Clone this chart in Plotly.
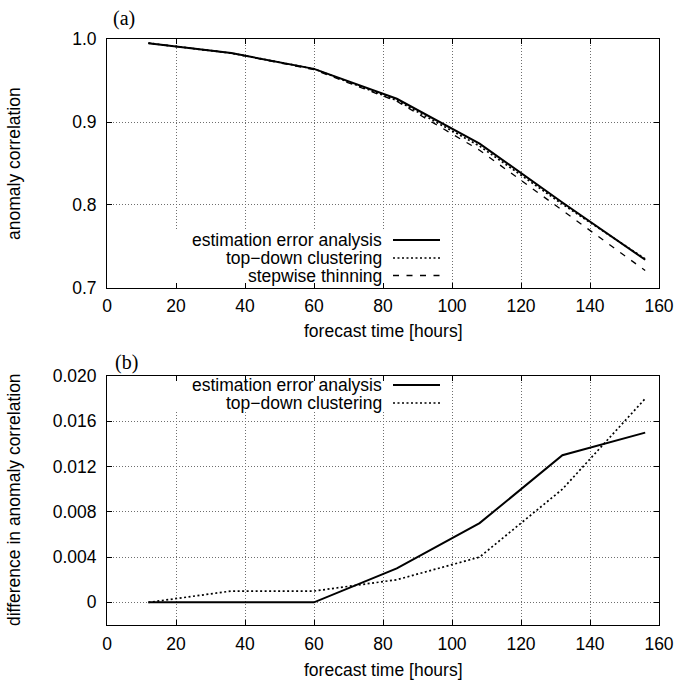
import plotly.graph_objects as go

# ---------------- data ----------------
forecast_hours = [12, 36, 60, 84, 108, 132, 156]

# panel (a): anomaly correlation
ac_estimation_error = [0.995, 0.983, 0.964, 0.928, 0.874, 0.803, 0.734]
ac_top_down = [0.995, 0.983, 0.964, 0.926, 0.871, 0.801, 0.735]
ac_stepwise = [0.995, 0.983, 0.963, 0.925, 0.866, 0.794, 0.721]

# panel (b): difference in anomaly correlation
diff_estimation_error = [0.0, 0.0, 0.0, 0.003, 0.007, 0.013, 0.015]
diff_top_down = [0.0, 0.001, 0.001, 0.002, 0.004, 0.010, 0.018]

x_tickvals = [0, 20, 40, 60, 80, 100, 120, 140, 160]
x_ticktext = ["0", "20", "40", "60", "80", "100", "120", "140", "160"]
ya_tickvals = [0.7, 0.8, 0.9, 1.0]
ya_ticktext = ["0.7", "0.8", "0.9", "1.0"]
yb_tickvals = [0.0, 0.004, 0.008, 0.012, 0.016, 0.020]
yb_ticktext = ["0", "0.004", "0.008", "0.012", "0.016", "0.020"]

names_a = ["estimation error analysis", "top\u2212down clustering", "stepwise thinning"]
names_b = ["estimation error analysis", "top\u2212down clustering"]

FONT = "Liberation Sans, Arial, Helvetica, sans-serif"
SERIF = "Liberation Serif, Times New Roman, serif"
FS = 17.5

L, R_EDGE, T, B_EDGE = 107, 659, 39, 625  # plot area in page pixels
FIG_W, FIG_H = 675, 681

SOLID = dict(color="black", width=2)
DOTTED = dict(color="black", width=1.7, dash="2px,2.5px")
DASHED = dict(color="black", width=1.3, dash="6px,7.5px")

fig = go.Figure()

# panel (a)
fig.add_trace(go.Scatter(x=forecast_hours, y=ac_estimation_error, mode="lines",
                         line=SOLID, xaxis="x", yaxis="y", showlegend=False))
fig.add_trace(go.Scatter(x=forecast_hours, y=ac_top_down, mode="lines",
                         line=DOTTED, xaxis="x", yaxis="y", showlegend=False))
fig.add_trace(go.Scatter(x=forecast_hours, y=ac_stepwise, mode="lines",
                         line=DASHED, xaxis="x", yaxis="y", showlegend=False))
# panel (b)
fig.add_trace(go.Scatter(x=forecast_hours, y=diff_estimation_error, mode="lines",
                         line=SOLID, xaxis="x2", yaxis="y2", showlegend=False))
fig.add_trace(go.Scatter(x=forecast_hours, y=diff_top_down, mode="lines",
                         line=DOTTED, xaxis="x2", yaxis="y2", showlegend=False))

axis_common = dict(
    showline=True, linecolor="black", linewidth=1, mirror="ticks",
    ticks="inside", ticklen=5, tickcolor="black", tickwidth=1,
    showgrid=True, gridcolor="#6e6e6e", gridwidth=1, griddash="1px,2px",
    zeroline=False, automargin=False,
    tickfont=dict(family=FONT, size=FS, color="black"),
)

fig.update_layout(
    width=FIG_W, height=FIG_H,
    margin=dict(l=L, r=FIG_W - R_EDGE, t=T, b=FIG_H - B_EDGE),
    paper_bgcolor="white", plot_bgcolor="white",
    xaxis=dict(domain=[0, 1], range=[0, 160], anchor="y",
               tickvals=x_tickvals, ticktext=x_ticktext, ticklabelstandoff=2, **axis_common),
    yaxis=dict(domain=[0.5751, 1], range=[0.7, 1.0], anchor="x",
               tickvals=ya_tickvals, ticktext=ya_ticktext, ticklabelstandoff=6, **axis_common),
    xaxis2=dict(domain=[0, 1], range=[0, 160], anchor="y2",
                tickvals=x_tickvals, ticktext=x_ticktext, ticklabelstandoff=3, **axis_common),
    yaxis2=dict(domain=[0, 0.4249], range=[-0.002, 0.020], anchor="x2",
                tickvals=yb_tickvals, ticktext=yb_ticktext, ticklabelstandoff=6, **axis_common),
)

W_PLOT, H_PLOT = float(R_EDGE - L), float(B_EDGE - T)
def px(xp):
    return (xp - L) / W_PLOT
def py(yp):
    return (B_EDGE - yp) / H_PLOT

annotations = []
# panel labels
annotations.append(dict(text="(a)", x=px(124), y=py(18), xref="paper", yref="paper",
                        xanchor="center", yanchor="middle", showarrow=False,
                        font=dict(family=SERIF, size=20, color="black")))
annotations.append(dict(text="(b)", x=px(126), y=py(362), xref="paper", yref="paper",
                        xanchor="center", yanchor="middle", showarrow=False,
                        font=dict(family=SERIF, size=20, color="black")))
# axis titles
for txt, yc in [("forecast time [hours]", 331), ("forecast time [hours]", 670)]:
    annotations.append(dict(text=txt, x=px(383), y=py(yc), xref="paper", yref="paper",
                            xanchor="center", yanchor="middle", showarrow=False,
                            font=dict(family=FONT, size=FS, color="black")))
for txt, yc in [("anomaly correlation", 164), ("difference in anomaly correlation", 500)]:
    annotations.append(dict(text=txt, x=px(14), y=py(yc), xref="paper", yref="paper",
                            xanchor="center", yanchor="middle", showarrow=False, textangle=-90,
                            font=dict(family=FONT, size=FS, color="black")))

shapes = []
# key backgrounds (blank the grid behind the keys)
shapes.append(dict(type="rect", xref="x", yref="y", x0=11, x1=98, y0=0.7, y1=0.7 + 0.3 * (59 / 249),
                   fillcolor="white", line=dict(width=0), layer="between"))
shapes.append(dict(type="rect", xref="x2", yref="y2", x0=11, x1=98,
                   y0=0.020 - 0.022 * (35 / 249), y1=0.020,
                   fillcolor="white", line=dict(width=0), layer="between"))

styles = [SOLID, DOTTED, DASHED]
rows_a = [240, 258, 275.5]
rows_b = [385, 403]
for i, name in enumerate(names_a):
    annotations.append(dict(text=name, x=px(384), y=py(rows_a[i]), xref="paper", yref="paper",
                            xanchor="right", yanchor="middle", showarrow=False,
                            font=dict(family=FONT, size=FS, color="black")))
    shapes.append(dict(type="line", xref="paper", yref="paper", x0=px(393), x1=px(440),
                       y0=py(rows_a[i]), y1=py(rows_a[i]), line=styles[i]))
for i, name in enumerate(names_b):
    annotations.append(dict(text=name, x=px(384), y=py(rows_b[i]), xref="paper", yref="paper",
                            xanchor="right", yanchor="middle", showarrow=False,
                            font=dict(family=FONT, size=FS, color="black")))
    shapes.append(dict(type="line", xref="paper", yref="paper", x0=px(393), x1=px(440),
                       y0=py(rows_b[i]), y1=py(rows_b[i]), line=styles[i]))

fig.update_layout(annotations=annotations, shapes=shapes)
fig.write_html("out.html", config={"displayModeBar": False},
               post_script="document.body.style.margin='0';")
